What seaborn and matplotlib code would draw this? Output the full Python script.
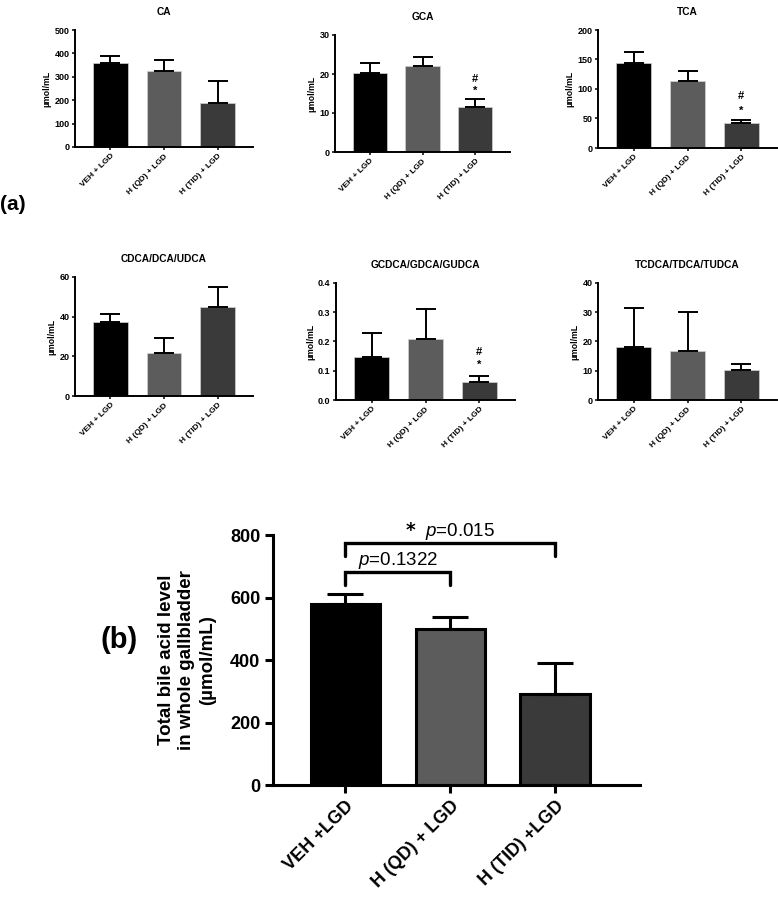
import matplotlib

matplotlib.use("Agg")

import matplotlib.pyplot as plt
import seaborn as sns

# -----------------------------
# Data
# -----------------------------
groups = ["VEH + LGD", "H (QD) + LGD", "H (TID) + LGD"]
groups_b = ["VEH +LGD", "H (QD) + LGD", "H (TID) +LGD"]
bar_colors = ["#000000", "#5c5c5c", "#3a3a3a"]

ca_mean = [357, 325, 189]
ca_top = [389, 371, 283]
gca_mean = [20.3, 22.0, 11.6]
gca_top = [22.9, 24.4, 13.5]
tca_mean = [144.5, 113, 42]
tca_top = [162.6, 131, 47]
cdca_mean = [37.5, 21.5, 45.0]
cdca_top = [41.3, 29.1, 55.0]
gcdca_mean = [0.148, 0.209, 0.0625]
gcdca_top = [0.228, 0.310, 0.081]
tcdca_mean = [18.2, 16.6, 10.2]
tcdca_top = [31.6, 30.0, 12.3]

total_mean = [579, 499, 291]
total_top = [611, 538, 390]

# -----------------------------
# Style
# -----------------------------
sns.set_theme(style="ticks")
plt.rcParams["font.family"] = ["Liberation Sans", "DejaVu Sans"]
plt.rcParams["text.color"] = "black"
plt.rcParams["axes.labelcolor"] = "black"
plt.rcParams["xtick.color"] = "black"
plt.rcParams["ytick.color"] = "black"
plt.rcParams["axes.edgecolor"] = "black"
plt.rcParams["mathtext.fontset"] = "custom"
plt.rcParams["mathtext.it"] = "Liberation Sans:italic"
plt.rcParams["mathtext.rm"] = "Liberation Sans"

W, H = 778, 897
fig = plt.figure(figsize=(W / 100, H / 100), dpi=100)


def rect(left, right, top, bottom):
    return [left / W, 1 - bottom / H, (right - left) / W, (bottom - top) / H]


def small_panel(r, title, mean, top, ymax, ystep, fmt, marks=None):
    ax = fig.add_axes(r)
    sns.barplot(
        x=groups,
        y=mean,
        hue=groups,
        palette=bar_colors,
        legend=False,
        width=0.65,
        errorbar=None,
        edgecolor="#d0d0d0",
        linewidth=0.5,
        ax=ax,
    )
    err = [t - m for t, m in zip(top, mean)]
    ax.errorbar(
        range(3),
        mean,
        yerr=[[0, 0, 0], err],
        fmt="none",
        ecolor="black",
        elinewidth=1.4,
        capsize=7,
        capthick=1.4,
    )
    ax.set_xlim(-0.66, 2.66)
    ax.set_ylim(0, ymax)
    ticks = [i * ystep for i in range(int(round(ymax / ystep)) + 1)]
    ax.set_yticks(ticks)
    ax.set_yticklabels([fmt.format(t) for t in ticks], fontsize=6.5, fontweight="bold")
    ax.set_xticks(range(3))
    ax.set_xticklabels(groups, rotation=45, ha="right", rotation_mode="anchor",
                       fontsize=6, fontweight="bold")
    ax.set_ylabel("µmol/mL", fontsize=6.3, fontweight="bold", labelpad=2)
    ax.set_title(title, fontsize=7.3, fontweight="bold", pad=11)
    ax.tick_params(width=1.1, length=2.5, pad=1.5)
    for s in ["top", "right"]:
        ax.spines[s].set_visible(False)
    for s in ["left", "bottom"]:
        ax.spines[s].set_linewidth(1.4)
    if marks:
        ax.text(2, marks[0], "#", ha="center", va="center", fontsize=8, fontweight="bold")
        ax.text(2, marks[1], "*", ha="center", va="center", fontsize=8, fontweight="bold")
    return ax


# ==========================================================
# (a) six small panels
# ==========================================================
small_panel(rect(75, 253, 30, 147), "CA", ca_mean, ca_top, 500, 100, "{:.0f}")
small_panel(rect(335, 510, 35, 152), "GCA", gca_mean, gca_top, 30, 10, "{:.0f}",
            marks=(18.7, 15.6))
small_panel(rect(598, 777, 30, 148), "TCA", tca_mean, tca_top, 200, 50, "{:.0f}",
            marks=(88, 63))
small_panel(rect(75, 253, 277, 396), "CDCA/DCA/UDCA", cdca_mean, cdca_top, 60, 20, "{:.0f}")
small_panel(rect(336, 515, 283, 400), "GCDCA/GDCA/GUDCA", gcdca_mean, gcdca_top, 0.4, 0.1,
            "{:.1f}", marks=(0.165, 0.119))
small_panel(rect(598, 777, 283, 400), "TCDCA/TDCA/TUDCA", tcdca_mean, tcdca_top, 40, 10, "{:.0f}")

fig.text(0 / W, 1 - 205 / H, "(a)", fontsize=15, fontweight="bold", va="center", ha="left")

# ==========================================================
# (b) total bile acid
# ==========================================================
ax = fig.add_axes(rect(273, 640, 535, 785))
sns.barplot(
    x=groups_b,
    y=total_mean,
    hue=groups_b,
    palette=bar_colors,
    legend=False,
    width=0.66,
    errorbar=None,
    edgecolor="black",
    linewidth=2.2,
    ax=ax,
)
err_b = [t - m for t, m in zip(total_top, total_mean)]
ax.errorbar(
    range(3),
    total_mean,
    yerr=[[0, 0, 0], err_b],
    fmt="none",
    ecolor="black",
    elinewidth=2.2,
    capsize=13,
    capthick=2.2,
)
ax.set_xlim(-0.69, 2.81)
ax.set_ylim(0, 800)
ax.set_yticks([0, 200, 400, 600, 800])
ax.set_yticklabels(["0", "200", "400", "600", "800"], fontsize=13, fontweight="bold")
ax.set_xticks(range(3))
ax.set_xticklabels(groups_b, rotation=45, ha="right", rotation_mode="anchor",
                   fontsize=13, fontweight="bold")
ax.set_ylabel("Total bile acid level\nin whole gallbladder\n(µmol/mL)", fontsize=13.5,
              fontweight="bold", linespacing=1.3, labelpad=10)
ax.tick_params(width=2.2, length=6, pad=3)
for s in ["top", "right"]:
    ax.spines[s].set_visible(False)
for s in ["left", "bottom"]:
    ax.spines[s].set_linewidth(2.2)

# significance brackets
ax.plot([0, 0, 1, 1], [640, 682, 682, 640], color="black", lw=2.4, clip_on=False,
        solid_joinstyle="miter")
ax.plot([0, 0, 2, 2], [733, 774, 774, 733], color="black", lw=2.4, clip_on=False,
        solid_joinstyle="miter")
ax.text(0.5, 686, "$\\it{p}$=0.1322", ha="center", va="bottom", fontsize=13.5)
ax.text(1.0, 778, "$\\bf{*}$  $\\it{p}$=0.015", ha="center", va="bottom", fontsize=13.5,
        clip_on=False)

fig.text(100 / W, 1 - 640 / H, "(b)", fontsize=21, fontweight="bold", va="center", ha="left")

fig.savefig("out.png", dpi=100)
plt.close("all")
